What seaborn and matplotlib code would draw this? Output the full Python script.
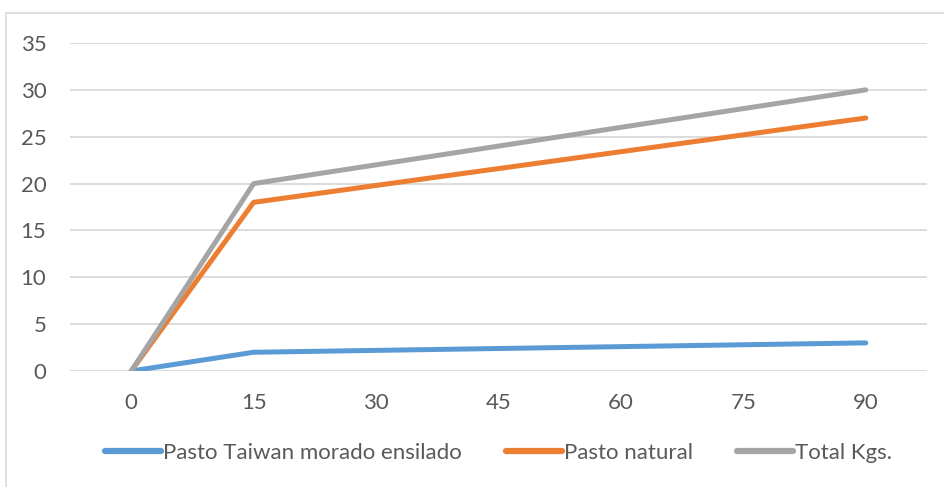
import matplotlib
matplotlib.use("Agg")
import matplotlib.pyplot as plt
from matplotlib.patches import Rectangle
import seaborn as sns
import pandas as pd

# Days after start and weights (kg)
days = [0, 15, 90]
taiwan = [0, 2, 3]
natural = [0, 18, 27]
total = [0, 20, 30]
series_names = ["Pasto Taiwan morado ensilado", "Pasto natural", "Total Kgs."]
x_ticks = [0, 15, 30, 45, 60, 75, 90]
y_ticks = [0, 5, 10, 15, 20, 25, 30, 35]
colors = ["#5B9BD5", "#ED7D31", "#A5A5A5"]

df = pd.DataFrame({
    "dia": days * 3,
    "kg": taiwan + natural + total,
    "serie": [series_names[0]] * 3 + [series_names[1]] * 3 + [series_names[2]] * 3,
})

sns.set_theme(style="white")
plt.rcParams["font.family"] = ["Lato", "DejaVu Sans"]

fig = plt.figure(figsize=(9.44, 4.87), dpi=100)
ax = fig.add_axes([70 / 944, 1 - 371 / 487, (927 - 70) / 944, (371 - 43) / 487])

# Outer chart frame
fig.patches.append(Rectangle((6 / 944, -0.01), 0.995, 1 - 13 / 487 + 0.01,
                             transform=fig.transFigure, fill=False,
                             edgecolor="#D9D9D9", linewidth=1.2, zorder=0))

for y in y_ticks:
    ax.axhline(y, color="#D9D9D9", linewidth=1.3, zorder=0)

sns.lineplot(data=df, x="dia", y="kg", hue="serie", palette=colors,
             linewidth=3.6, ax=ax, legend=True, zorder=3)
for line in ax.get_lines():
    line.set_solid_capstyle("round")
    line.set_solid_joinstyle("round")

ax.set_xlim(-7.5, 97.5)
ax.set_ylim(0, 35)
ax.set_xticks(x_ticks)
ax.set_yticks(y_ticks)
ax.set_xlabel("")
ax.set_ylabel("")
ax.tick_params(axis="both", length=0, labelsize=16, labelcolor="#595959")
ax.tick_params(axis="x", pad=16)
ax.tick_params(axis="y", pad=17)
for s in ax.spines.values():
    s.set_visible(False)

leg = ax.legend(loc="center", bbox_to_anchor=(0.5, -0.25), ncol=3, frameon=False,
                fontsize=16, handlelength=2.5, handletextpad=0.1, columnspacing=2.0)
for t in leg.get_texts():
    t.set_color("#595959")
for h in leg.get_lines():
    h.set_linewidth(4.5)
    h.set_solid_capstyle("round")

fig.savefig("out.png", dpi=100, facecolor="white")
